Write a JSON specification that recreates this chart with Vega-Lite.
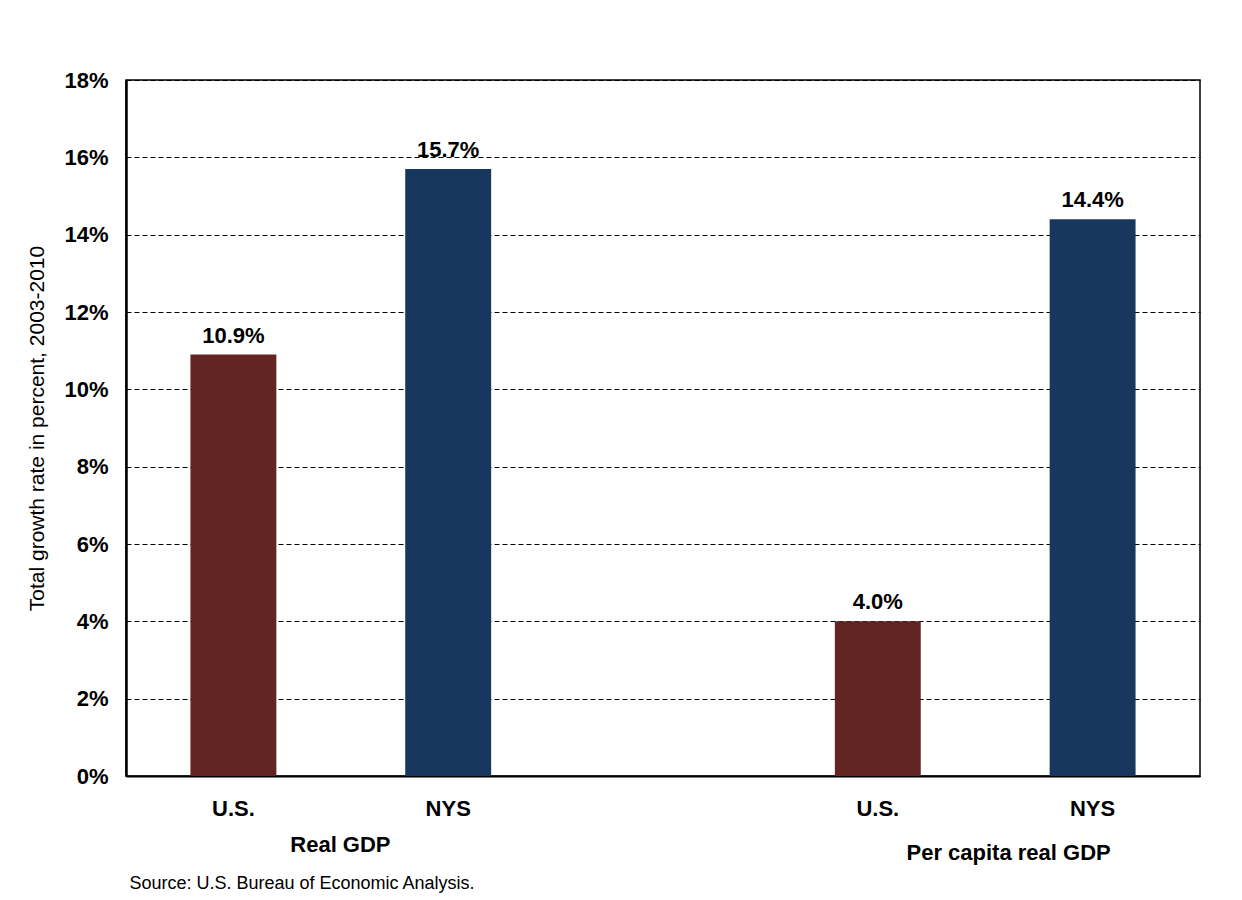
{
  "$schema": "https://vega.github.io/schema/vega-lite/v6.json",
  "autosize": {"type": "none"},
  "padding": {"left": 126, "top": 80, "right": 42, "bottom": 124},
  "width": 1074,
  "height": 696,
  "background": "white",
  "config": {
    "font": "Liberation Sans",
    "view": {"stroke": "black", "strokeWidth": 1.5},
    "axis": {"labelFont": "Liberation Sans", "titleFont": "Liberation Sans"}
  },
  "data": {
    "values": [
      {"cat": "US1", "country": "U.S.", "value": 0.109, "label": "10.9%"},
      {"cat": "NYS1", "country": "NYS", "value": 0.157, "label": "15.7%"},
      {"cat": "US2", "country": "U.S.", "value": 0.040, "label": "4.0%"},
      {"cat": "NYS2", "country": "NYS", "value": 0.144, "label": "14.4%"}
    ]
  },
  "encoding": {
    "x": {
      "field": "cat",
      "type": "nominal",
      "scale": {"domain": ["US1", "NYS1", "gap", "US2", "NYS2"], "paddingInner": 0.6, "paddingOuter": 0.3},
      "axis": {
        "title": null,
        "labelExpr": "datum.value == 'US1' || datum.value == 'US2' ? 'U.S.' : (datum.value == 'gap' ? '' : 'NYS')",
        "labelAngle": 0,
        "labelFontSize": 22,
        "labelFontWeight": "bold",
        "labelColor": "black",
        "labelPadding": 22,
        "ticks": false,
        "domain": true,
        "domainColor": "black",
        "domainWidth": 2
      }
    }
  },
  "layer": [
    {
      "mark": {"type": "bar"},
      "encoding": {
        "y": {
          "field": "value",
          "type": "quantitative",
          "scale": {"domain": [0, 0.18], "nice": false},
          "axis": {
            "title": "Total growth rate in percent, 2003-2010",
            "titleFontSize": 21,
            "titleFontWeight": "normal",
            "titleColor": "black",
            "titlePadding": 16,
            "format": ".0%",
            "values": [0, 0.02, 0.04, 0.06, 0.08, 0.1, 0.12, 0.14, 0.16, 0.18],
            "labelFontSize": 22,
            "labelFontWeight": "bold",
            "labelColor": "black",
            "labelPadding": 18,
            "ticks": false,
            "domainColor": "black",
            "domainWidth": 2.5,
            "grid": true,
            "gridColor": "black",
            "gridDash": [5, 3],
            "gridWidth": 1,
            "gridOpacity": 1
          }
        },
        "color": {
          "field": "country",
          "type": "nominal",
          "scale": {"domain": ["U.S.", "NYS"], "range": ["#632523", "#17375E"]},
          "legend": null
        }
      }
    },
    {
      "mark": {"type": "text", "fontSize": 22, "fontWeight": "bold", "baseline": "alphabetic", "dy": -12, "color": "black"},
      "encoding": {
        "y": {"field": "value", "type": "quantitative"},
        "text": {"field": "label"}
      }
    },
    {
      "data": {"values": [{"group": "Real GDP", "cat": "US1"}]},
      "mark": {"type": "text", "fontSize": 22, "fontWeight": "bold", "baseline": "middle", "dx": 107, "clip": false, "color": "black"},
      "encoding": {
        "y": {"datum": -0.0178, "type": "quantitative"},
        "text": {"field": "group"}
      }
    },
    {
      "data": {"values": [{"group": "Per capita real GDP", "cat": "NYS2"}]},
      "mark": {"type": "text", "fontSize": 22, "fontWeight": "bold", "baseline": "middle", "dx": -84, "clip": false, "color": "black"},
      "encoding": {
        "y": {"datum": -0.0199, "type": "quantitative"},
        "text": {"field": "group"}
      }
    },
    {
      "data": {"values": [{"note": "Source: U.S. Bureau of Economic Analysis.", "cat": "US1"}]},
      "mark": {"type": "text", "fontSize": 18, "fontWeight": "normal", "baseline": "middle", "align": "left", "dx": -104, "clip": false, "color": "black"},
      "encoding": {
        "y": {"datum": -0.0279, "type": "quantitative"},
        "text": {"field": "note"}
      }
    }
  ]
}
